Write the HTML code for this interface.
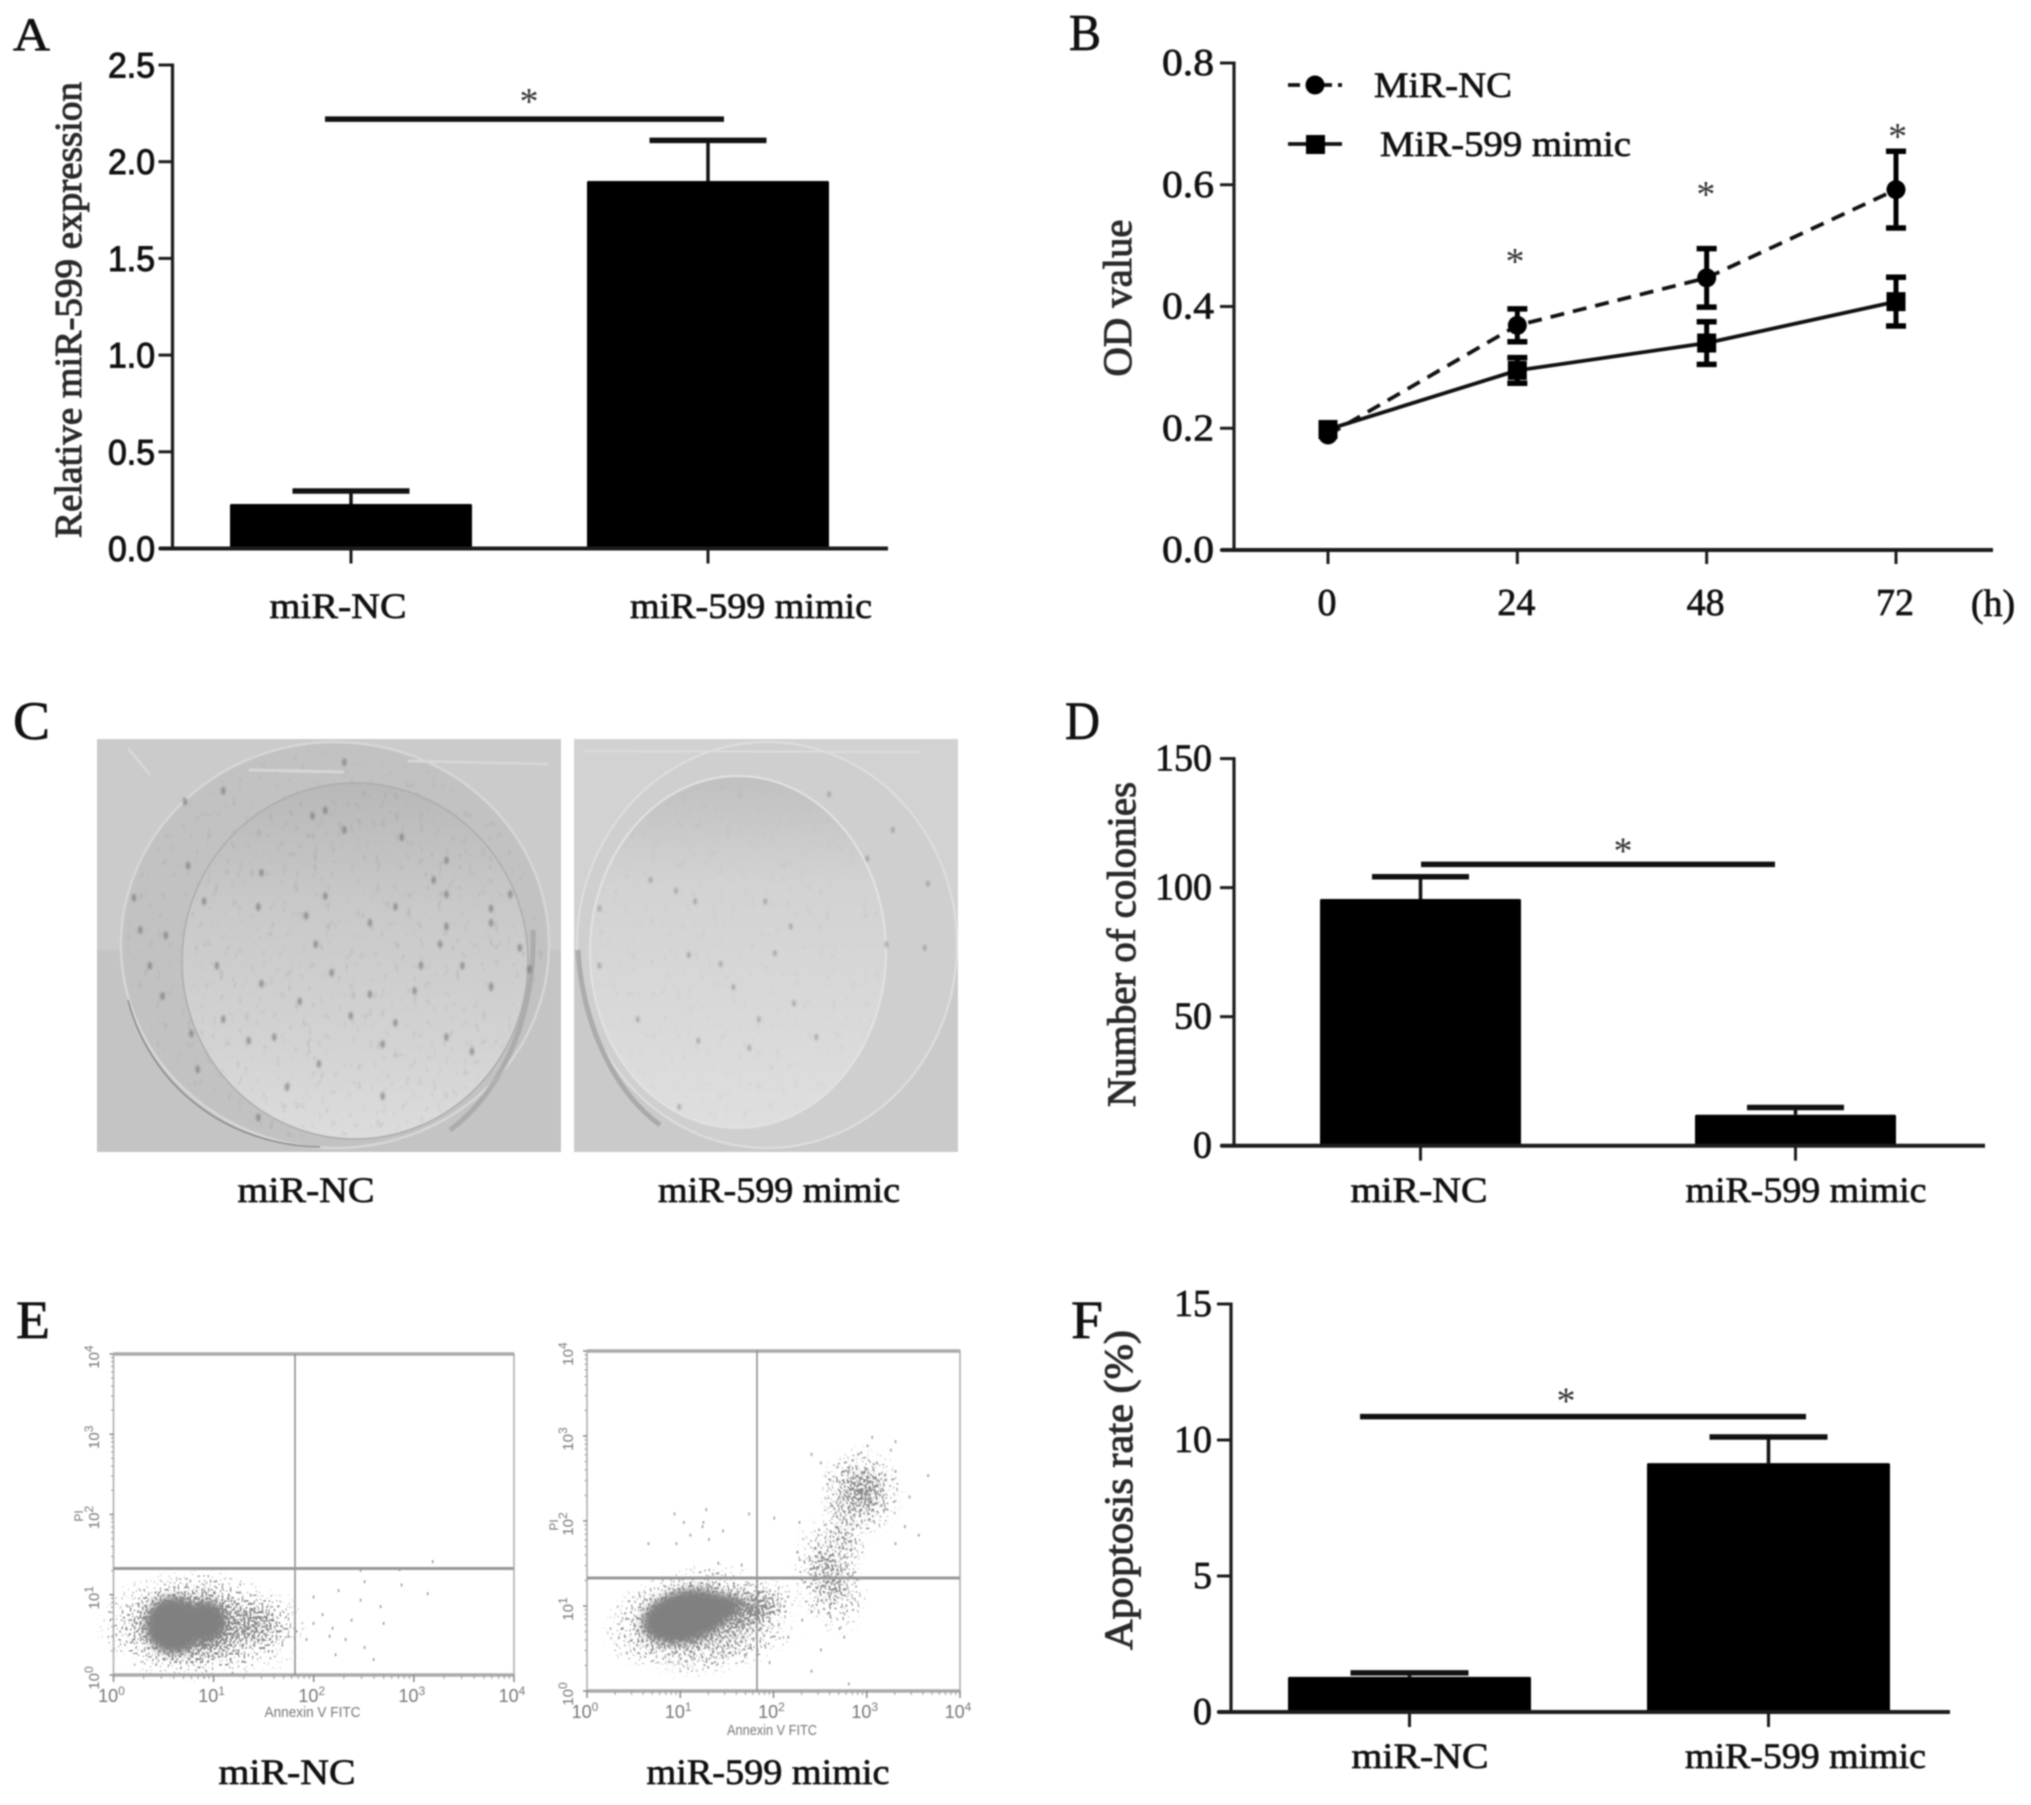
<!DOCTYPE html>
<html lang="en">
<head>
<meta charset="utf-8">
<title>miR-599 multi-panel figure</title>
<style>
html,body{margin:0;padding:0;background:#fff;}
svg{display:block;filter:blur(0.9px);}
text{font-family:"Liberation Serif",serif;fill:#111;}
</style>
</head>
<body>
<svg id="figure" xmlns="http://www.w3.org/2000/svg" width="2031" height="1805" viewBox="0 0 2031 1805">
<defs>
<linearGradient id="innerDishA" x1="0" y1="0" x2="0" y2="1">
<stop offset="0" stop-color="#b8b8b8"/><stop offset=".35" stop-color="#c9c9c9"/><stop offset=".75" stop-color="#d3d3d3"/><stop offset="1" stop-color="#dcdcdc"/>
</linearGradient>
<linearGradient id="innerDishB" x1="0" y1="0" x2="0" y2="1">
<stop offset="0" stop-color="#c0c0c0"/><stop offset=".3" stop-color="#d2d2d2"/><stop offset="1" stop-color="#dedede"/>
</linearGradient>
<radialGradient id="cloudFill">
<stop offset="0" stop-color="#000" stop-opacity=".95"/><stop offset=".35" stop-color="#000" stop-opacity=".72"/><stop offset=".7" stop-color="#000" stop-opacity=".32"/><stop offset="1" stop-color="#000" stop-opacity="0"/>
</radialGradient>
<filter id="speckle" x="-10%" y="-10%" width="120%" height="120%" color-interpolation-filters="sRGB">
<feTurbulence type="fractalNoise" baseFrequency="0.5 0.36" numOctaves="1" seed="4" result="noise"/>
<feColorMatrix in="noise" type="matrix" values="0 0 0 0 0 0 0 0 0 0 0 0 0 0 0 2.4 0 0 0 -0.7" result="noiseAlpha"/>
<feComposite in="SourceGraphic" in2="noiseAlpha" operator="arithmetic" k1="0" k2="1" k3="1" k4="-1" result="sum"/>
<feComponentTransfer in="sum" result="dots"><feFuncA type="linear" slope="6"/></feComponentTransfer>
<feFlood flood-color="#8a8a8a"/>
<feComposite in2="dots" operator="in"/>
</filter>
<filter id="grain" x="0" y="0" width="100%" height="100%" color-interpolation-filters="sRGB">
<feTurbulence type="fractalNoise" baseFrequency="0.16 0.1" numOctaves="2" seed="9" result="noise"/>
<feColorMatrix in="noise" type="matrix" values="0 0 0 0 .4 0 0 0 0 .4 0 0 0 0 .4 5 0 0 0 -3.1" result="blotch"/>
<feComposite in="blotch" in2="SourceAlpha" operator="in"/>
</filter>
<filter id="softCore" x="-30%" y="-30%" width="160%" height="160%"><feGaussianBlur stdDeviation="4"/></filter>
<filter id="softDot" x="-80%" y="-80%" width="260%" height="260%"><feGaussianBlur stdDeviation="1"/></filter>
<clipPath id="clipPhotoA"><rect x="97" y="739" width="464" height="413"/></clipPath>
<clipPath id="clipPhotoB"><rect x="574" y="739" width="384" height="413"/></clipPath>
</defs>
<script>
// ---------- Panel A data ----------
const barCategories = ['miR-NC', 'miR-599 mimic'];
const exprMeans = [0.23, 1.90];
const exprErrTops = [0.297, 2.11];
const exprTicks = [0, 0.5, 1.0, 1.5, 2.0, 2.5];
const exprTickLabels = ['0.0', '0.5', '1.0', '1.5', '2.0', '2.5'];
// ---------- Panel B data ----------
const hours = [0, 24, 48, 72];
const hourLabels = ['0', '24', '48', '72'];
const odTicks = [0, 0.2, 0.4, 0.6, 0.8];
const odTickLabels = ['0.0', '0.2', '0.4', '0.6', '0.8'];
const odNC = [0.189, 0.369, 0.447, 0.592];
const odNCErr = [0, 0.027, 0.048, 0.063];
const odMimic = [0.198, 0.295, 0.34, 0.408];
const odMimicErr = [0, 0.021, 0.035, 0.04];
const odStarHours = [23.7, 47.9, 72.2];
const odStarValues = [0.485, 0.595, 0.69];
// ---------- Panel D data ----------
const colonyMeans = [95.6, 12];
const colonyErrTops = [104.2, 14.8];
const colonyTicks = [0, 50, 100, 150];
const colonyTickLabels = ['0', '50', '100', '150'];
// ---------- Panel F data ----------
const apoptosisMeans = [1.29, 9.15];
const apoptosisErrTops = [1.44, 10.11];
const apoptosisTicks = [0, 5, 10, 15];
const apoptosisTickLabels = ['0', '5', '10', '15'];
// ---------- Panel E data (log10 decades: annexin, PI) ----------
const flowDecades = [0, 1, 2, 3, 4];
const flowNCEvents = [[2.24,1.07],[2.5,1.18],[2.87,1.14],[3.13,1.03],[3.18,1.43],[1.99,.99],[2.46,.95],[2.66,.87],[2.08,.77],[2.18,.6],[2.37,.7],[2.69,.66],[2.5,.36],[2.21,.27],[2.59,.21],[1.92,.46],[1.99,.66],[2.31,.46],[2.15,.5],[2.46,1.32],[2.85,1.33]];
const flowMimicEvents = [[2.6,2.5],[2.7,2.3],[2.8,2.6],[2.9,2.8],[3.0,2.9],[3.1,2.7],[3.2,2.5],[3.3,2.6],[2.5,2.7],[2.4,2.8],[3.0,2.2],[3.15,2.2],[2.75,2.05],[3.45,2.3],[3.4,1.95],[3.55,1.85],[3.3,1.75],[3.65,2.55],[3.05,3.0],[3.25,2.85],[3.3,2.95],[.93,2.1],[1.03,2.0],[1.27,2.15],[1.24,2.0],[1.23,1.95],[1.45,1.9],[1.1,1.85],[.65,1.75],[.95,1.75],[1.3,1.8],[1.73,2.1],[1.4,1.52],[1.65,1.5],[2.0,2.05],[2.27,2.0],[2.25,1.65],[2.5,.5],[2.7,.75],[2.75,.65],[2.4,.95],[2.05,.8],[2.15,.65],[1.9,.55],[1.95,.35],[2.4,.25],[2.8,.1],[1.7,.45],[1.85,.6],[2.3,.85],[2.6,.9]];
// density regions: centre annexin, centre PI, spread annexin, spread PI (plus relative density for fringes)
const flowNCCores = [[.6,.62,.28,.35],[.92,.66,.2,.26]];
const flowNCFringes = [[.8,.62,1.0,.72,1],[1.35,.62,.62,.52,.75],[1.0,.25,.95,.32,.45]];
const flowMimicCores = [[1.05,.88,.46,.3],[1.45,.98,.2,.14]];
const flowMimicFringes = [[1.1,.86,1.0,.62,1],[1.75,.95,.6,.38,.8],[1.5,.5,.9,.32,.45],[2.6,1.35,.42,.75,.65],[2.75,1.9,.26,.55,.5],[2.95,2.35,.48,.58,.75]];

const root = document.getElementById('figure');
const NS = 'http://www.w3.org/2000/svg';

function mk(tag, attrs, name, parent) {
  const node = document.createElementNS(NS, tag);
  for (const k in attrs) node.setAttribute(k, attrs[k]);
  
  
  (parent || root).appendChild(node);
  return node;
}
function line(x1, y1, x2, y2, w, color, name, parent, extra) {
  return mk('line', Object.assign({x1, y1, x2, y2, stroke: color, 'stroke-width': w}, extra || {}), name, parent);
}
function txt(str, x, y, o) {
  const a = {x, y, 'font-size': o.size, 'text-anchor': o.anchor || 'middle'};
  if (o.len) { a.textLength = o.len; a.lengthAdjust = 'spacingAndGlyphs'; }
  if (o.rot) a.transform = 'rotate(-90 ' + x + ' ' + y + ')';
  let style = '';
  if (o.family) style += 'font-family:' + o.family + ';';
  if (o.color) style += 'fill:' + o.color + ';';
  if (o.stroke) style += 'stroke:' + (o.color || '#111') + ';stroke-width:' + o.stroke + 'px;';
  if (style) a.style = style;
  const t = mk('text', a, o.name, o.parent);
  t.textContent = str;
  return t;
}
const AXIS = '#1c1c1c';
const SANS = '"Liberation Sans",sans-serif';

function barPanel(c, means, errTops, ticks, tickLabels) {
  const g = mk('g', {}, c.name);
  const yOf = v => c.yZero - (v / c.yMax) * (c.yZero - c.yTop);
  const xOf = i => c.firstCenter + i * c.spacing;
  means.forEach((m, i) => {
    const cx = xOf(i);
    const top = yOf(errTops[i]);
    line(cx, top, cx, yOf(m), 3.5, '#111', 'error-stem-' + i, g);
    line(cx - c.capW / 2, top, cx + c.capW / 2, top, 5.5, '#111', 'error-cap-' + i, g);
    mk('rect', {x: cx - c.barW / 2, y: yOf(m), width: c.barW, height: c.yZero - yOf(m), fill: '#000', rx: 1.5}, 'bar-' + barCategories[i].toLowerCase().replace(/ /g, '-'), g);
    line(cx, c.yZero, cx, c.yZero + 15, 3, AXIS, 'x-tick-' + i, g);
    txt(barCategories[i], c.labelX[i], c.labelBase, {size: 36, len: c.labelLen[i], name: 'x-label-' + i, parent: g, stroke: .7});
  });
  line(c.axisX, c.yTop - 1.5, c.axisX, c.yZero + 1.5, 3.2, AXIS, 'y-axis', g);
  line(c.axisX - 13, c.yZero, c.xEnd, c.yZero, 4, AXIS, 'x-axis', g);
  ticks.forEach((v, i) => {
    line(c.axisX - 14, yOf(v), c.axisX, yOf(v), 3, AXIS, 'y-tick-' + v, g);
    txt(tickLabels[i], c.tickRight, yOf(v) + c.tickShift, {size: c.tickSize, anchor: 'end', family: c.tickFamily, stroke: c.tickStroke, len: c.tickLen ? c.tickLen * tickLabels[i].length / 3 : null, name: 'y-tick-label-' + v, parent: g});
  });
  line(c.sig[0], yOf(c.sigValue), c.sig[1], yOf(c.sigValue), 5.5, '#111', 'significance-bar', g);
  txt('*', c.starX, yOf(c.sigValue) + c.starDy, {size: 38, color: '#333', name: 'significance-star', parent: g});
  txt(c.title, c.titleX, c.titleY, {size: c.titleSize, rot: true, len: c.titleLen, color: '#2a2a2a', stroke: 1, name: 'y-axis-title', parent: g});
}

// ---------- panel letters ----------
[['A', 13, 50, 47, 37], ['B', 1069, 50, 52, 32], ['C', 13, 739, 54, 37], ['D', 1065, 739, 54, 35], ['E', 16, 1338, 54, 34], ['F', 1071, 1338, 54, 32]].forEach(p => {
  txt(p[0], p[1], p[2], {size: p[3], anchor: 'start', len: p[4], stroke: .7, name: 'panel-letter-' + p[0].toLowerCase()});
});

// ---------- Panel A ----------
barPanel({name: 'panel-a-expression-chart', axisX: 172.5, xEnd: 888, yZero: 548.5, yTop: 65, yMax: 2.5,
  firstCenter: 351, spacing: 357, barW: 242, capW: 117, labelX: [338, 751], labelBase: 618, labelLen: [137, 242],
  tickRight: 155, tickShift: 12.5, tickSize: 35, tickFamily: SANS, tickStroke: 1, tickLen: 47,
  sig: [325, 724], sigValue: 2.22, starX: 529, starDy: -5,
  title: 'Relative miR-599 expression', titleX: 81, titleY: 310, titleSize: 38, titleLen: 456}, exprMeans, exprErrTops, exprTicks, exprTickLabels);

// ---------- Panel B ----------
(function () {
  const g = mk('g', {}, 'panel-b-od-chart');
  const yZero = 550, yTop = 63, yMax = 0.8, axisX = 1234, xEnd = 1993;
  const x0 = 1328, x72 = 1896;
  const xOf = h => x0 + (h / 72) * (x72 - x0);
  const yOf = v => yZero - (v / yMax) * (yZero - yTop);
  line(axisX, yTop - 1.5, axisX, yZero + 1.5, 3.2, AXIS, 'y-axis', g);
  line(axisX - 13, yZero, xEnd, yZero, 4, AXIS, 'x-axis', g);
  odTicks.forEach((v, i) => {
    line(axisX - 14, yOf(v), axisX, yOf(v), 3, AXIS, 'y-tick-' + v, g);
    txt(odTickLabels[i], 1214, yOf(v) + 12, {size: 38, anchor: 'end', len: 52, name: 'y-tick-label-' + v, parent: g, stroke: .7});
  });
  hours.forEach((h, i) => {
    line(xOf(h), yZero, xOf(h), yZero + 14, 3, AXIS, 'x-tick-' + h, g);
    txt(hourLabels[i], xOf(h) - 1, 615, {size: 38, name: 'x-tick-label-' + h, parent: g, stroke: .7});
  });
  txt('(h)', 1993, 616, {size: 38, name: 'x-unit-label', parent: g, stroke: .7});
  txt('OD value', 1131, 298, {size: 40, rot: true, len: 157, color: '#2a2a2a', stroke: 1, name: 'y-axis-title', parent: g});
  const pts = (vals) => vals.map((v, i) => xOf(hours[i]) + ',' + yOf(v)).join(' ');
  mk('polyline', {points: pts(odNC), fill: 'none', stroke: '#111', 'stroke-width': 3.8, 'stroke-dasharray': '14 9'}, 'series-mir-nc-line', g);
  mk('polyline', {points: pts(odMimic), fill: 'none', stroke: '#111', 'stroke-width': 3.8}, 'series-mir-599-mimic-line', g);
  hours.forEach((h, i) => {
    const cx = xOf(h);
    if (odNCErr[i] > 0) {
      const t = yOf(odNC[i] + odNCErr[i]), b = yOf(odNC[i] - odNCErr[i]);
      line(cx, t, cx, b, 5, '#000', 'nc-error-' + h, g);
      line(cx - 10, t, cx + 10, t, 5.5, '#000', 'nc-error-cap-top-' + h, g);
      line(cx - 10, b, cx + 10, b, 5.5, '#000', 'nc-error-cap-bottom-' + h, g);
    }
    mk('circle', {cx, cy: yOf(odNC[i]), r: 9.5, fill: '#000'}, 'nc-point-' + h, g);
  });
  hours.forEach((h, i) => {
    const cx = xOf(h);
    if (odMimicErr[i] > 0) {
      const t = yOf(odMimic[i] + odMimicErr[i]), b = yOf(odMimic[i] - odMimicErr[i]);
      line(cx, t, cx, b, 5, '#000', 'mimic-error-' + h, g);
      line(cx - 10, t, cx + 10, t, 5.5, '#000', 'mimic-error-cap-top-' + h, g);
      line(cx - 10, b, cx + 10, b, 5.5, '#000', 'mimic-error-cap-bottom-' + h, g);
    }
    mk('rect', {x: cx - 9.5, y: yOf(odMimic[i]) - 9.5, width: 19, height: 19, fill: '#000'}, 'mimic-point-' + h, g);
  });
  odStarValues.forEach((v, i) => {
    txt('*', xOf(odStarHours[i]), yOf(v) + 19, {size: 38, color: '#333', name: 'significance-star-' + hours[i + 1], parent: g});
  });
  const leg = mk('g', {}, 'legend', g);
  line(1288, 85, 1342, 85, 3.8, '#111', 'legend-nc-line', leg, {'stroke-dasharray': '12 24 8 6'});
  mk('circle', {cx: 1315, cy: 85, r: 9.5, fill: '#000'}, 'legend-nc-marker', leg);
  txt('MiR-NC', 1374, 97, {size: 36, anchor: 'start', len: 138, name: 'legend-nc-label', parent: leg, stroke: .7});
  line(1288, 144, 1342, 144, 3.8, '#111', 'legend-mimic-line', leg);
  mk('rect', {x: 1306, y: 135, width: 19, height: 19, fill: '#000'}, 'legend-mimic-marker', leg);
  txt('MiR-599 mimic', 1380, 156, {size: 36, anchor: 'start', len: 251, name: 'legend-mimic-label', parent: leg, stroke: .7});
})();

// ---------- Panel C (colony plate photographs) ----------
const coloniesLeft = [[490,380],[510,365],[295,520],[410,540],[700,505],[510,605],[405,635],[320,620],[620,635],[700,600],[770,680],[700,690],[580,680],[260,715],[495,740],[690,740],[815,750],[210,610],[235,800],[255,885],[410,850],[520,820],[660,800],[725,800],[830,810],[770,860],[300,990],[350,950],[390,1010],[500,1075],[450,1140],[600,1165],[700,1000],[405,1225],[310,1090],[220,700],[800,600],[770,640],[550,940],[620,960],[430,1000],[540,420],[630,440],[290,340],[350,310],[540,230],[600,1020],[740,1040],[680,560],[480,660],[340,800],[580,880],[470,900],[650,870]];
const coloniesRight = [[1020,560],[1090,620],[1200,620],[1060,590],[940,640],[1240,690],[1130,795],[1215,765],[1080,770],[1245,905],[1190,950],[1095,1010],[1175,1030],[1065,1195],[1450,750],[1455,570],[1390,740],[940,800],[1360,500],[1300,320],[1400,420],[1150,860],[1000,950],[1280,1000]];
(function () {
  const g = mk('g', {}, 'panel-c-colony-photos');
  const a = mk('g', {'clip-path': 'url(#clipPhotoA)'}, 'colony-photo-mir-nc', g);
  mk('rect', {x: 97, y: 739, width: 464, height: 413, fill: '#cbcbcb'}, 'photo-background', a);
  mk('rect', {x: 97, y: 950, width: 464, height: 202, fill: '#c4c4c4'}, 'photo-background-lower', a);
  mk('ellipse', {cx: 335, cy: 945, rx: 214, ry: 203, fill: '#c2c2c2', stroke: '#d6d6d6', 'stroke-width': 2.5}, 'outer-dish-rim', a);
  mk('ellipse', {cx: 335, cy: 945, rx: 208, ry: 197, fill: '#000', opacity: .1, filter: 'url(#grain)'}, 'outer-dish-grain', a);
  mk('path', {d: 'M128 1000 C 150 1085 225 1145 320 1147', fill: 'none', stroke: '#7e7e7e', 'stroke-width': 1.6, opacity: .8}, 'outer-dish-shadow', a);
  mk('path', {d: 'M533 930 C 536 1010 505 1090 450 1130', fill: 'none', stroke: '#a2a2a2', 'stroke-width': 5, opacity: .7}, 'dish-side-shadow', a);
  mk('ellipse', {cx: 355, cy: 961, rx: 173, ry: 178, fill: 'url(#innerDishA)', stroke: '#adadad', 'stroke-width': 1.5}, 'inner-dish', a);
  mk('ellipse', {cx: 355, cy: 961, rx: 170, ry: 175, fill: '#000', opacity: .13, filter: 'url(#grain)'}, 'inner-dish-grain', a);
  line(128, 748, 150, 775, 2.5, '#d8d8d8', 'plate-corner-highlight', a);
  line(408, 761, 548, 764, 2.5, '#d8d8d8', 'plate-edge-highlight', a);
  line(249, 770, 344, 772, 3, '#d6d6d6', 'dish-top-highlight', a);
  coloniesLeft.forEach((p, i) => {
    mk('ellipse', {cx: p[0] / 1.568, cy: 680 + p[1] / 2.8, rx: 2.2, ry: 4, fill: '#666', opacity: .55, filter: 'url(#softDot)'}, 'colony-nc-' + i, a);
  });
  const b = mk('g', {'clip-path': 'url(#clipPhotoB)'}, 'colony-photo-mir-599-mimic', g);
  mk('rect', {x: 574, y: 739, width: 384, height: 413, fill: '#d2d2d2'}, 'photo-background', b);
  mk('rect', {x: 574, y: 950, width: 384, height: 202, fill: '#cacaca'}, 'photo-background-lower', b);
  mk('ellipse', {cx: 767, cy: 945, rx: 190, ry: 203, fill: '#cfcfcf', stroke: '#dedede', 'stroke-width': 2}, 'outer-dish-rim', b);
  mk('ellipse', {cx: 738, cy: 952, rx: 148, ry: 176, fill: 'url(#innerDishB)', stroke: '#e2e2e2', 'stroke-width': 2}, 'inner-dish', b);
  mk('ellipse', {cx: 738, cy: 952, rx: 145, ry: 173, fill: '#000', opacity: .05, filter: 'url(#grain)'}, 'inner-dish-grain', b);
  mk('path', {d: 'M578 950 C 582 1020 612 1090 660 1125', fill: 'none', stroke: '#a4a4a4', 'stroke-width': 5, opacity: .85}, 'dish-shadow-crescent', b);
  line(585, 751, 920, 752, 2, '#dcdcdc', 'plate-edge-highlight', b);
  coloniesRight.forEach((p, i) => {
    mk('ellipse', {cx: p[0] / 1.568, cy: 680 + p[1] / 2.8, rx: 1.8, ry: 3.2, fill: '#777', opacity: .5, filter: 'url(#softDot)'}, 'colony-mimic-' + i, b);
  });
  txt('miR-NC', 306, 1202, {size: 36, len: 137, name: 'photo-label-mir-nc', parent: g, stroke: .7});
  txt('miR-599 mimic', 779, 1202, {size: 36, len: 242, name: 'photo-label-mir-599-mimic', parent: g, stroke: .7});
})();

// ---------- Panel D ----------
barPanel({name: 'panel-d-colony-chart', axisX: 1234, xEnd: 1985, yZero: 1145.7, yTop: 758.6, yMax: 150,
  firstCenter: 1420.5, spacing: 375, barW: 201, capW: 97, labelX: [1419, 1806], labelBase: 1202, labelLen: [137, 241],
  tickRight: 1212, tickShift: 12, tickSize: 38, tickFamily: null, tickStroke: .7, tickLen: null,
  sig: [1421, 1775], sigValue: 109, starX: 1623, starDy: -1,
  title: 'Number of colonies', titleX: 1135, titleY: 944.5, titleSize: 40, titleLen: 325}, colonyMeans, colonyErrTops, colonyTicks, colonyTickLabels);

// ---------- Panel E ----------
function flowPlot(c, cores, fringes, events) {
  const g = mk('g', {}, c.name);
  const xOf = d => c.x0 + d * (c.x1 - c.x0) / 4;
  const yOf = d => c.y0 - d * (c.y0 - c.y1) / 4;
  fringes.forEach((f, i) => {
    mk('ellipse', {cx: xOf(f[0]), cy: yOf(f[1]), rx: f[2] * (c.x1 - c.x0) / 4, ry: f[3] * (c.y0 - c.y1) / 4, fill: 'url(#cloudFill)', 'fill-opacity': f[4], filter: 'url(#speckle)', transform: 'rotate(' + c.tilt + ' ' + xOf(f[0]) + ' ' + yOf(f[1]) + ')'}, 'event-density-fringe-' + i, g);
  });
  cores.forEach((f, i) => {
    mk('ellipse', {cx: xOf(f[0]), cy: yOf(f[1]), rx: f[2] * (c.x1 - c.x0) / 4, ry: f[3] * (c.y0 - c.y1) / 4, fill: '#808080', filter: 'url(#softCore)', transform: 'rotate(' + c.tilt + ' ' + xOf(f[0]) + ' ' + yOf(f[1]) + ')'}, 'event-density-core-' + i, g);
  });
  events.forEach((e, i) => {
    mk('rect', {x: xOf(e[0]), y: yOf(e[1]), width: 1.6, height: 2.8, fill: '#999'}, 'event-' + i, g);
  });
  mk('rect', {x: c.x0, y: c.y1, width: c.x1 - c.x0, height: c.y0 - c.y1, fill: 'none', stroke: '#aaa', 'stroke-width': 1.5}, 'plot-frame', g);
  line(c.x0, c.y1, c.x1, c.y1, 3.5, '#aaa', 'plot-frame-top', g);
  line(c.x0, c.y0, c.x1, c.y0, 3.5, '#aaa', 'plot-frame-bottom', g);
  line(c.gateX, c.y1, c.gateX, c.y0, 1.5, '#8a8a8a', 'quadrant-gate-vertical', g);
  line(c.x0, c.gateY, c.x1, c.gateY, 3, '#999', 'quadrant-gate-horizontal', g);
  flowDecades.forEach((d) => {
    line(xOf(d), c.y0, xOf(d), c.y0 + 7, 1.5, '#888', 'x-major-tick-' + d, g);
    line(c.x0 - 4, yOf(d), c.x0, yOf(d), 1.5, '#888', 'y-major-tick-' + d, g);
    if (d < 4) {
      [2, 3, 4, 5, 6, 7, 8, 9].forEach(m => {
        const f = d + Math.log10(m);
        line(xOf(f), c.y0, xOf(f), c.y0 + 4, 1, '#999', 'x-minor-tick', g);
        line(c.x0 - 2.5, yOf(f), c.x0, yOf(f), 1, '#999', 'y-minor-tick', g);
      });
    }
    const xl = mk('text', {x: xOf(d) - 2, y: c.y0 + c.xLabelDy, 'font-size': 18, 'text-anchor': 'middle', style: 'font-family:' + SANS + ';fill:#777;'}, 'x-tick-label-' + d, g);
    xl.textContent = '10';
    const xs = mk('tspan', {dy: -7, 'font-size': 12}, 'x-tick-exponent', xl);
    xs.textContent = String(d);
    const yl = mk('text', {x: c.yLabelX, y: yOf(d) + 3, 'font-size': 15, 'text-anchor': 'middle', transform: 'rotate(-90 ' + c.yLabelX + ' ' + (yOf(d) + 3) + ')', style: 'font-family:' + SANS + ';fill:#777;'}, 'y-tick-label-' + d, g);
    yl.textContent = '10';
    const ys = mk('tspan', {dy: -6, 'font-size': 12}, 'y-tick-exponent', yl);
    ys.textContent = String(d);
  });
  txt('Annexin V FITC', c.xTitleX, c.xTitleY, {size: 15, len: c.xTitleLen, family: SANS, color: '#777', name: 'x-axis-title', parent: g});
  txt('PI', c.piX, c.piY, {size: 12, rot: true, family: SANS, color: '#777', name: 'y-axis-title', parent: g});
  txt(c.label, c.labelX, 1784, {size: 36, len: c.labelLen, name: 'plot-label', parent: g, stroke: .7});
}
flowPlot({name: 'panel-e-flow-mir-nc', x0: 113.5, x1: 514, y0: 1675, y1: 1354, gateX: 295, gateY: 1568.5, tilt: 0,
  xLabelDy: 27, yLabelX: 99, xTitleX: 312.5, xTitleY: 1717, xTitleLen: 96, piX: 83, piY: 1516, label: 'miR-NC', labelX: 287, labelLen: 137},
  flowNCCores, flowNCFringes, flowNCEvents);
flowPlot({name: 'panel-e-flow-mir-599-mimic', x0: 587, x1: 960, y0: 1691, y1: 1351, gateX: 757, gateY: 1578, tilt: -14,
  xLabelDy: 27, yLabelX: 573, xTitleX: 772, xTitleY: 1735, xTitleLen: 90, piX: 558, piY: 1525, label: 'miR-599 mimic', labelX: 768, labelLen: 243},
  flowMimicCores, flowMimicFringes, flowMimicEvents);

// ---------- Panel F ----------
barPanel({name: 'panel-f-apoptosis-chart', axisX: 1231, xEnd: 1950, yZero: 1712, yTop: 1304, yMax: 15,
  firstCenter: 1409.5, spacing: 359, barW: 243, capW: 118, labelX: [1420, 1805.5], labelBase: 1768, labelLen: [137, 241],
  tickRight: 1212, tickShift: 12, tickSize: 38, tickFamily: null, tickStroke: .7, tickLen: null,
  sig: [1360, 1806], sigValue: 10.86, starX: 1566, starDy: -3,
  title: 'Apoptosis rate (%)', titleX: 1132, titleY: 1490, titleSize: 40, titleLen: 320}, apoptosisMeans, apoptosisErrTops, apoptosisTicks, apoptosisTickLabels);
</script>
</svg>
</body>
</html>
